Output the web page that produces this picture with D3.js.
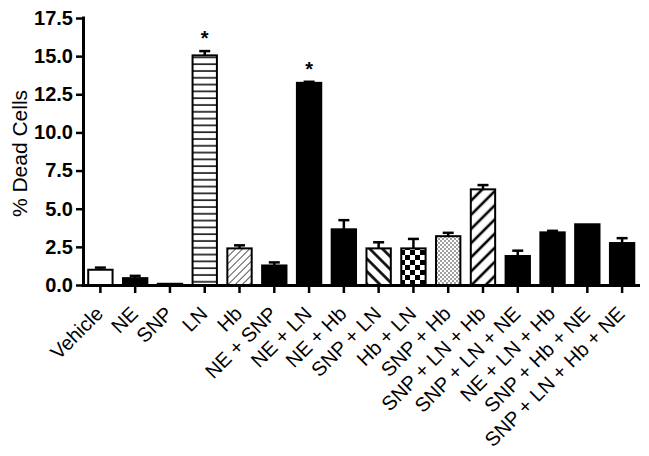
<!DOCTYPE html>
<html>
<head>
<meta charset="utf-8">
<script src="https://cdn.jsdelivr.net/npm/d3@7"></script>
<style>
  body { margin: 0; background: #fff; }
  text { font-family: "Liberation Sans", Arial, sans-serif; }
</style>
</head>
<body>
<div id="chart"></div>
<script>
// Groups, means and (upper) SEM
const groups = ["Vehicle", "NE", "SNP", "LN", "Hb", "NE + SNP", "NE + LN", "NE + Hb",
  "SNP + LN", "Hb + LN", "SNP + Hb", "SNP + LN + Hb", "SNP + LN + NE", "NE + LN + Hb",
  "SNP + Hb + NE", "SNP + LN + Hb + NE"];
const means = [1.0, 0.45, 0.08, 15.05, 2.4, 1.28, 13.25, 3.65, 2.4, 2.4, 3.2, 6.27, 1.9, 3.45, 3.98, 2.75];
const errors = [0.14, 0.15, 0, 0.28, 0.2, 0.2, 0.07, 0.6, 0.4, 0.62, 0.22, 0.28, 0.35, 0.1, 0, 0.32];
const fills = ["white", "black", "black", "hlines", "thinhatch", "black", "black", "black",
  "backhatch", "checker", "dots", "fwdhatch", "black", "black", "black", "black"];
const starred = ["LN", "NE + LN"];
const yTicks = [0, 2.5, 5, 7.5, 10, 12.5, 15, 17.5];

const width = 649;
const height = 456;

const svg = d3.select("#chart")
  .append("svg")
  .attr("width", width)
  .attr("height", height);

// fill patterns
const defs = svg.append("defs");

const hl = defs.append("pattern").attr("id", "hlines")
  .attr("patternUnits", "userSpaceOnUse").attr("width", 10).attr("height", 6.8);
hl.append("rect").attr("width", 10).attr("height", 6.8).attr("fill", "white");
hl.append("line").attr("x1", 0).attr("x2", 10).attr("y1", 3).attr("y2", 3)
  .attr("stroke", "black").attr("stroke-width", 1.5);

function hatch(id, spacing, angle, sw, color) {
  const p = defs.append("pattern").attr("id", id)
    .attr("patternUnits", "userSpaceOnUse")
    .attr("width", spacing).attr("height", spacing)
    .attr("patternTransform", `rotate(${angle})`);
  p.append("rect").attr("width", spacing).attr("height", spacing).attr("fill", "white");
  p.append("line").attr("x1", spacing / 2).attr("x2", spacing / 2)
    .attr("y1", 0).attr("y2", spacing)
    .attr("stroke", color).attr("stroke-width", sw);
}
hatch("thinhatch", 5, 45, 0.9, "#444");
hatch("backhatch", 9, -45, 2.6, "black");
hatch("fwdhatch", 10, 45, 2.6, "black");

const ck = defs.append("pattern").attr("id", "checker")
  .attr("patternUnits", "userSpaceOnUse").attr("width", 10).attr("height", 10);
ck.append("rect").attr("width", 10).attr("height", 10).attr("fill", "white");
ck.append("rect").attr("width", 5).attr("height", 5).attr("fill", "black");
ck.append("rect").attr("x", 5).attr("y", 5).attr("width", 5).attr("height", 5).attr("fill", "black");

const dt = defs.append("pattern").attr("id", "dots")
  .attr("patternUnits", "userSpaceOnUse").attr("width", 4).attr("height", 4);
dt.append("rect").attr("width", 4).attr("height", 4).attr("fill", "white");
dt.append("circle").attr("cx", 1).attr("cy", 1).attr("r", 0.75).attr("fill", "#111");
dt.append("circle").attr("cx", 3).attr("cy", 3).attr("r", 0.75).attr("fill", "#111");

// scales
const x = d3.scaleBand()
  .domain(groups)
  .range([83, 639.5])
  .paddingInner(0.3)
  .paddingOuter(0.15);

const y = d3.scaleLinear()
  .domain([0, 17.5])
  .range([285, 18]);

const fillOf = f => (f === "white" || f === "black") ? f : `url(#${f})`;

// bars
svg.append("g")
  .selectAll("rect")
  .data(groups)
  .join("rect")
  .attr("x", d => x(d))
  .attr("y", (d, i) => y(means[i]))
  .attr("width", x.bandwidth())
  .attr("height", (d, i) => y(0) - y(means[i]))
  .attr("fill", (d, i) => fillOf(fills[i]))
  .attr("stroke", "black")
  .attr("stroke-width", 2);

// error bars (upper only)
const eb = svg.append("g")
  .selectAll("g")
  .data(groups.filter((d, i) => errors[i] > 0))
  .join("g")
  .attr("stroke", "black")
  .attr("stroke-width", 2.5);

eb.append("line")
  .attr("x1", d => x(d) + x.bandwidth() / 2)
  .attr("x2", d => x(d) + x.bandwidth() / 2)
  .attr("y1", d => y(means[groups.indexOf(d)]))
  .attr("y2", d => y(means[groups.indexOf(d)] + errors[groups.indexOf(d)]));

eb.append("line")
  .attr("x1", d => x(d) + x.bandwidth() / 2 - 5.5)
  .attr("x2", d => x(d) + x.bandwidth() / 2 + 5.5)
  .attr("y1", d => y(means[groups.indexOf(d)] + errors[groups.indexOf(d)]))
  .attr("y2", d => y(means[groups.indexOf(d)] + errors[groups.indexOf(d)]));

// significance stars
svg.append("g")
  .selectAll("text")
  .data(starred)
  .join("text")
  .attr("x", d => x(d) + x.bandwidth() / 2)
  .attr("y", d => y(means[groups.indexOf(d)] + errors[groups.indexOf(d)]) - 6)
  .attr("text-anchor", "middle")
  .style("font-size", "20px")
  .style("font-weight", "bold")
  .text("*");

// x axis
svg.append("g")
  .attr("transform", `translate(0,${y(0)})`)
  .call(d3.axisBottom(x).tickSize(8).tickSizeOuter(0))
  .call(g => g.select(".domain").attr("stroke-width", 3).attr("d", "M81.5,0.5H640"))
  .call(g => g.selectAll(".tick line").attr("stroke-width", 2.5))
  .call(g => g.selectAll(".tick text")
    .attr("x", 0).attr("y", 0).attr("dy", "0.35em")
    .attr("transform", "translate(-1,25) rotate(-45)")
    .attr("text-anchor", "end")
    .attr("fill", "black")
    .style("font-size", "20px")
    .style("font-family", "'Liberation Sans', Arial, sans-serif"));

// y axis
svg.append("g")
  .attr("transform", `translate(83,0)`)
  .call(d3.axisLeft(y).tickValues(yTicks).tickFormat(d3.format(".1f")).tickSize(7).tickSizeOuter(0))
  .call(g => g.select(".domain").attr("stroke-width", 3).attr("d", "M0.5,16.5V286"))
  .call(g => g.selectAll(".tick line").attr("stroke-width", 2.5))
  .call(g => g.selectAll(".tick text")
    .attr("x", -10)
    .attr("fill", "black")
    .style("font-size", "20px")
    .style("font-weight", "bold")
    .style("font-family", "'Liberation Sans', Arial, sans-serif"));

// y axis title
svg.append("text")
  .attr("transform", `translate(27,${(y(0) + y(17.5)) / 2 + 2}) rotate(-90)`)
  .attr("text-anchor", "middle")
  .attr("fill", "black")
  .style("font-size", "21px")
  .text("% Dead Cells");
</script>
</body>
</html>
